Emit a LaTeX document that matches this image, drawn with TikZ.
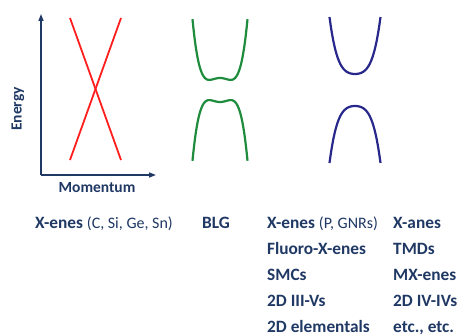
\documentclass[tikz,border=0pt]{standalone}
\usepackage{fontspec}
\setmainfont{Carlito}
\usetikzlibrary{arrows.meta}
\definecolor{navy}{RGB}{31,56,100}
\definecolor{bred}{RGB}{255,30,30}
\definecolor{bgreen}{RGB}{30,140,60}
\definecolor{bblue}{RGB}{40,40,140}
\tikzset{
  axis/.style={navy,line width=1.4pt,-{Triangle[length=7pt,width=5pt]}},
  lbl/.style={navy,font=\fontsize{17.3}{20}\selectfont\bfseries,anchor=base west,inner sep=0pt},
  axlbl/.style={navy,font=\fontsize{15.5}{18}\selectfont\bfseries,inner sep=0pt},
  band/.style={line width=2.2pt}
}
\newcommand{\paren}[1]{{\mdseries\fontsize{16}{18}\selectfont #1}}
\begin{document}
\begin{tikzpicture}[x=1pt,y=-1pt]
\useasboundingbox (0,0) rectangle (459,336);
% axes
\coordinate (o) at (41,175);
\coordinate (ytop) at (41,14);
\coordinate (xend) at (156,175);
\draw[axis] (o) -- (ytop);
\draw[axis] (o) -- (xend);
\node[axlbl,rotate=90] (energy) at (18,109) {Energy};
\node[axlbl] (mom) at (97,188) {Momentum};
% Dirac cone
\coordinate (r1) at (70,18);
\coordinate (r2) at (121,160);
\coordinate (r3) at (121,18);
\coordinate (r4) at (70,160);
\draw[bred,line width=1.8pt] (r1) -- (r2);
\draw[bred,line width=1.8pt] (r3) -- (r4);
% BLG
\draw[bgreen,band] plot[domain=-1:1,samples=80,smooth] ({220+27.5*\x},{78-84*(\x*\x*\x*\x-0.3*\x*\x)});
\draw[bgreen,band] plot[domain=-1:1,samples=80,smooth] ({220+27.5*\x},{102-84*(-\x*\x*\x*\x+0.3*\x*\x)});
% gapped
\draw[bblue,band] plot[domain=-1:1,samples=80,smooth] ({355+25.5*\x},{74-57*(0.3*\x*\x+0.7*\x*\x*\x*\x)});
\draw[bblue,band] plot[domain=-1:1,samples=80,smooth] ({355+25.5*\x},{106+57*(0.3*\x*\x+0.7*\x*\x*\x*\x)});
% labels
\node[lbl] (c1) at (35,229) {X-enes \paren{(C, Si, Ge, Sn)}};
\node[lbl] (c2) at (202,229) {BLG};
\node[lbl] (c3a) at (267,229) {X-enes \paren{(P, GNRs)}};
\node[lbl] (c3b) at (267,255) {Fluoro-X-enes};
\node[lbl] (c3c) at (267,281) {SMCs};
\node[lbl] (c3d) at (267,307) {2D III-Vs};
\node[lbl] (c3e) at (267,333) {2D elementals};
\node[lbl] (c4a) at (393,229) {X-anes};
\node[lbl] (c4b) at (393,255) {TMDs};
\node[lbl] (c4c) at (393,281) {MX-enes};
\node[lbl] (c4d) at (393,307) {2D IV-IVs};
\node[lbl] (c4e) at (393,333) {etc., etc.};
\end{tikzpicture}
\end{document}
